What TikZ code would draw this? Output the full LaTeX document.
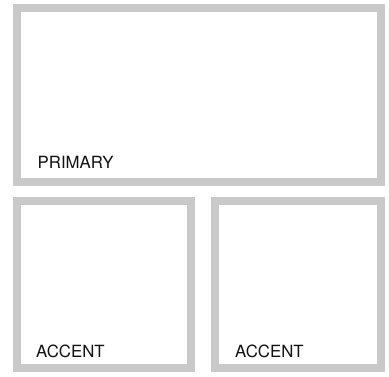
\documentclass[tikz,border=0pt]{standalone}
\usepackage{fontspec}
\setmainfont{TeX Gyre Heros}
\definecolor{framegrey}{HTML}{C9C9C9}
\definecolor{labeltext}{HTML}{111111}
\begin{document}
\begin{tikzpicture}[x=1bp,y=-1bp,
  panel/.style={draw=framegrey, line width=8.3bp, fill=white, inner sep=0pt},
  paneltext/.style={anchor=base west, inner sep=0pt, text=labeltext, font=\fontsize{16.8bp}{19bp}\selectfont}]
  \useasboundingbox (0,0) rectangle (389,377);
  \fill[white] (0,0) rectangle (389,377);
  \node[panel, minimum width=364bp, minimum height=174bp] (primary) at (199,95) {};
  \node[panel, minimum width=174bp, minimum height=167bp] (accentA) at (104,284.5) {};
  \node[panel, minimum width=166bp, minimum height=167bp] (accentB) at (298,284.5) {};
  \node[paneltext] (lblP) at (37.5,168) {PRIMARY};
  \node[paneltext] (lblA) at (36,357) {ACCENT};
  \node[paneltext] (lblB) at (235,357) {ACCENT};
\end{tikzpicture}
\end{document}
